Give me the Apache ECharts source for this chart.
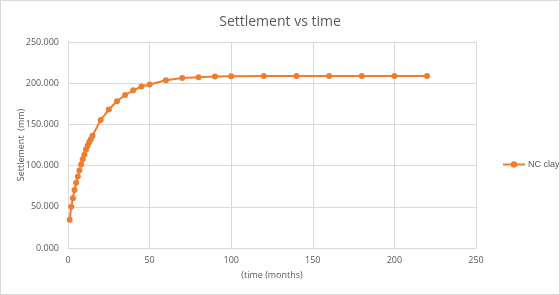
<!DOCTYPE html>
<html><head><meta charset="utf-8">
<script src="https://cdn.jsdelivr.net/npm/echarts@6/dist/echarts.min.js"></script>
<style>html,body{margin:0;padding:0;background:#fff}#c{width:560px;height:295px;box-sizing:border-box;border:1px solid #d9d9d9}</style>
</head><body><div id="c"></div>
<script>
const time = [1,2,3,4,5,6,7,8,9,10,11,12,13,14,15,20,25,30,35,40,45,50,60,70,80,90,100,120,140,160,180,200,220];
const settlement = [34.4,50.0,60.5,70.4,79.2,86.9,94.1,101.3,107.6,113.3,119.3,124.1,128.4,132.0,136.1,155.3,168.0,178.0,185.6,191.3,196.0,198.5,203.6,206.4,207.2,208.0,208.4,208.8,208.8,208.8,208.8,208.8,208.8];
const seriesName = 'NC clay';
const titleText = 'Settlement vs time';
const xTitle = '(time (months)';
const yTitle = 'Settlement  (mm)';
const xMin = 0, xMax = 250, xStep = 50;
const yMin = 0, yMax = 250, yStep = 50;

const chart = echarts.init(document.getElementById('c'), null, {renderer:'canvas'});
const font = 'Open Sans, Liberation Sans, sans-serif';
chart.setOption({
  animation:false,
  textStyle:{fontFamily:font},
  title:{text:titleText,left:'center',top:9,textStyle:{fontSize:14,fontWeight:'normal',color:'#595959',fontFamily:font}},
  legend:{data:[seriesName],orient:'vertical',left:496,top:154,itemWidth:22,itemHeight:8,
    textStyle:{fontSize:9,color:'#595959',fontFamily:'Liberation Sans, sans-serif',padding:[0,0,0,-2]}},
  grid:{left:67,right:83,top:41,bottom:46,containLabel:false},
  xAxis:{type:'value',min:xMin,max:xMax,interval:xStep,
    name:xTitle,nameLocation:'middle',nameGap:23,nameMoveOverlap:false,nameTextStyle:{fontSize:9,color:'#595959'},
    axisLine:{show:true,lineStyle:{color:'#d9d9d9'}},axisTick:{show:false},
    axisLabel:{fontSize:9,color:'#595959',margin:8},
    splitLine:{show:true,lineStyle:{color:'#d9d9d9'}}},
  yAxis:{type:'value',min:yMin,max:yMax,interval:yStep,
    name:yTitle,nameLocation:'middle',nameGap:42,nameMoveOverlap:false,nameTextStyle:{fontSize:9,color:'#595959'},
    axisLine:{show:true,lineStyle:{color:'#d9d9d9'}},axisTick:{show:false},
    axisLabel:{fontSize:9,color:'#595959',margin:9,formatter:v=>v.toFixed(3)},
    splitLine:{show:true,lineStyle:{color:'#d9d9d9'}}},
  series:[{name:seriesName,type:'line',data:time.map((t,i)=>[t,settlement[i]]),
    symbol:'circle',symbolSize:6,showSymbol:true,
    lineStyle:{color:'#ED7D31',width:2},itemStyle:{color:'#ED7D31'}}]
});
</script></body></html>
